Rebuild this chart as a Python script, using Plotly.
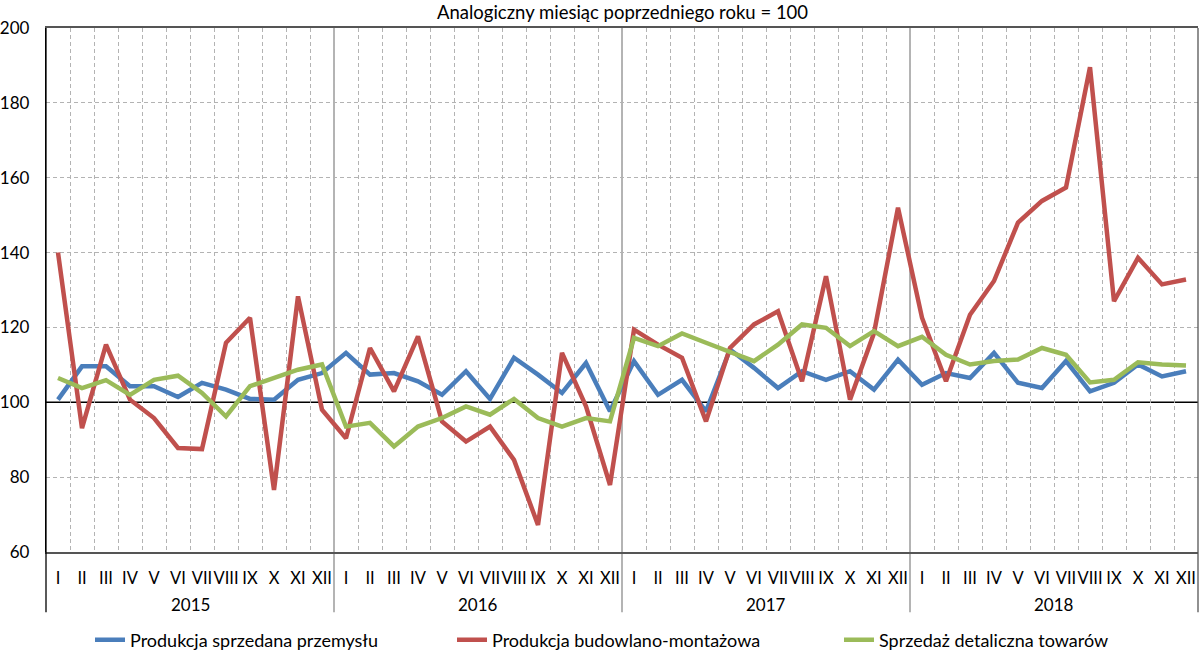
import plotly.graph_objects as go

months = ["I", "II", "III", "IV", "V", "VI", "VII", "VIII", "IX", "X", "XI", "XII"]
years = ["2015", "2016", "2017", "2018"]

przemysl = [100.7, 109.6, 109.6, 104.3, 104.3, 101.4, 105.2, 103.4, 100.9, 100.7, 106.0, 107.8,
            113.2, 107.4, 107.8, 105.6, 102.0, 108.3, 100.9, 111.9, 107.4, 102.5, 110.5, 97.6,
            111.0, 102.0, 106.0, 97.6, 114.1, 109.2, 103.8, 108.3, 106.0, 108.3, 103.4, 111.4,
            104.7, 107.8, 106.5, 113.2, 105.2, 103.8, 111.0, 102.9, 105.2, 110.1, 106.9, 108.3]

budowlana = [140.0, 93.1, 115.4, 100.7, 95.8, 87.8, 87.5, 115.9, 122.6, 76.6, 128.3, 98.0,
             90.4, 114.5, 102.9, 117.6, 94.9, 89.5, 93.5, 84.6, 67.2, 113.2, 98.9, 77.9,
             119.4, 115.4, 111.9, 94.9, 114.5, 120.8, 124.3, 105.6, 133.7, 100.7, 118.5, 152.0,
             122.6, 105.6, 123.4, 132.4, 148.0, 153.8, 157.4, 189.5, 127.0, 138.6, 131.5, 132.8]

detaliczna = [106.5, 103.8, 105.9, 102.0, 106.0, 107.1, 102.5, 96.2, 104.3, 106.5, 108.7, 110.1,
              93.5, 94.5, 88.2, 93.5, 95.8, 98.9, 96.7, 100.9, 95.8, 93.5, 95.8, 94.9,
              117.2, 115.0, 118.4, 115.9, 113.6, 111.0, 115.4, 120.8, 119.9, 115.0, 119.0, 115.0,
              117.5, 112.7, 110.1, 111.0, 111.4, 114.5, 112.7, 105.3, 106.0, 110.7, 110.1, 109.8]

y_ticks = [60, 80, 100, 120, 140, 160, 180, 200]
base_value = 100

series_names = ["Produkcja sprzedana przemysłu", "Produkcja budowlano-montażowa", "Sprzedaż detaliczna towarów"]
colors = ["#4A7EBB", "#C0504D", "#9BBB59"]
title_text = "Analogiczny miesiąc poprzedniego roku = 100"

n = len(przemysl)
x = list(range(n))
ticktext = [months[i % 12] for i in x]

FONT = "Lato"

fig = go.Figure()
legend_ids = ["legend", "legend2", "legend3"]
for name, vals, col, lg in zip(series_names, [przemysl, budowlana, detaliczna], colors, legend_ids):
    fig.add_trace(go.Scatter(x=x, y=vals, mode="lines", name=name,
                             line=dict(color=col, width=4.5), legend=lg))

shapes = []
# reference line at 100
shapes.append(dict(type="line", xref="paper", yref="y", x0=0, x1=1, y0=base_value, y1=base_value,
                   line=dict(color="black", width=1.4), layer="between"))
# year separators extending below axis
for k in range(1, len(years)):
    xb = 12 * k - 0.5
    shapes.append(dict(type="line", xref="x", yref="paper", x0=xb, x1=xb, y0=-0.115, y1=1,
                       line=dict(color="#8c8c8c", width=1.3), layer="between"))
# left and right frame extension
shapes.append(dict(type="line", xref="paper", yref="paper", x0=0, x1=0, y0=-0.115, y1=1,
                   line=dict(color="black", width=1.3)))
shapes.append(dict(type="line", xref="paper", yref="paper", x0=1, x1=1, y0=-0.115, y1=1,
                   line=dict(color="#555555", width=1.3)))

annotations = []
for k, yr in enumerate(years):
    annotations.append(dict(x=12 * k + 5.5, y=-0.101, xref="x", yref="paper", text=yr,
                            showarrow=False, font=dict(family=FONT, size=17, color="black"),
                            xanchor="center", yanchor="middle"))
annotations.append(dict(x=0.5, y=1, xref="paper", yref="paper", text=title_text, showarrow=False,
                        yshift=16, font=dict(family=FONT, size=18.5, color="black"),
                        xanchor="center", yanchor="middle"))

legend_common = dict(orientation="h", yanchor="middle", y=-0.168, xanchor="left",
                     font=dict(family=FONT, size=18, color="black"), bgcolor="rgba(0,0,0,0)",
                     borderwidth=0)

grid_vals = [v for v in y_ticks[1:-1] if v != base_value]

fig.update_layout(
    width=1200, height=653,
    margin=dict(l=46, r=2, t=28, b=101, autoexpand=False),
    paper_bgcolor="white", plot_bgcolor="white",
    font=dict(family=FONT, size=16, color="black"),
    showlegend=True,
    legend=dict(**legend_common, x=(90 - 46) / 1152),
    legend2=dict(**legend_common, x=(452 - 46) / 1152),
    legend3=dict(**legend_common, x=(839 - 46) / 1152),
    shapes=shapes,
    annotations=annotations,
    xaxis=dict(range=[-0.5, n - 0.5], tickmode="array", tickvals=x, ticktext=ticktext,
               tickangle=0, automargin=False,
               showgrid=False, zeroline=False, ticks="", ticklabelstandoff=10,
               tickfont=dict(family=FONT, size=16.5, color="black"),
               showline=True, linecolor="#555555", linewidth=1.5, mirror=True,
               minor=dict(tickmode="array", tickvals=[i - 0.5 for i in range(1, n)],
                          showgrid=True, gridcolor="#b3b3b3", gridwidth=1, griddash="4px,3px",
                          ticks="")),
    yaxis=dict(range=[y_ticks[0], y_ticks[-1]], tickmode="array", tickvals=y_ticks,
               showgrid=False, zeroline=False, ticks="", automargin=False,
               ticklabelstandoff=12,
               tickfont=dict(family=FONT, size=17, color="black"),
               showline=True, linecolor="black", linewidth=1.3,
               minor=dict(tickmode="array", tickvals=grid_vals, showgrid=True,
                          gridcolor="#b3b3b3", gridwidth=1, griddash="4px,3px", ticks="")),
)

fig.write_html("out.html", config={"displayModeBar": False},
               post_script="document.body.style.margin='0';document.body.style.padding='0';")
